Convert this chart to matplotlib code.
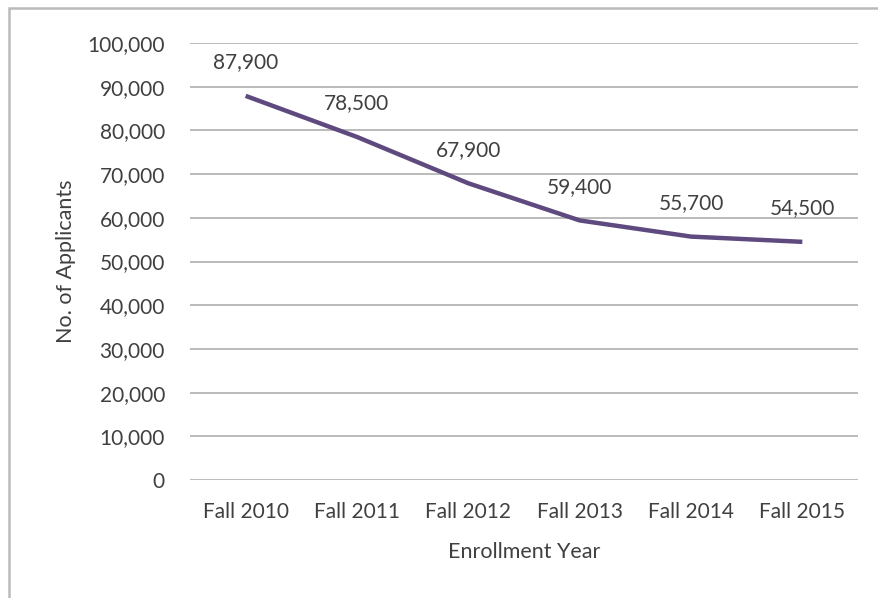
import matplotlib
matplotlib.use("Agg")
import matplotlib.pyplot as plt
from matplotlib.patches import Rectangle
from matplotlib.ticker import FuncFormatter, MultipleLocator

categories = ["Fall 2010", "Fall 2011", "Fall 2012", "Fall 2013", "Fall 2014", "Fall 2015"]
applicants = [87900, 78500, 67900, 59400, 55700, 54500]

plt.rcParams['font.family'] = ['Lato', 'DejaVu Sans']
text_color = '#404040'

fig = plt.figure(figsize=(8.79, 5.98), dpi=100)
ax = fig.add_axes([190/879, 1 - 480/598, 668/879, 437/598])

x = list(range(len(categories)))
ax.plot(x, applicants, color='#5E4A7F', linewidth=3.2, solid_capstyle='butt', zorder=3)
for xi, v in zip(x, applicants):
    ax.annotate(f"{v:,}", (xi, v), xytext=(0, 17), textcoords='offset points',
                ha='center', va='bottom', fontsize=15, color=text_color)

ax.set_xlim(-0.5, len(categories) - 0.5)
ax.set_ylim(0, 100000)
ax.yaxis.set_major_locator(MultipleLocator(10000))
ax.yaxis.set_major_formatter(FuncFormatter(lambda v, p: f"{int(v):,}"))
ax.set_xticks(x)
ax.set_xticklabels(categories)
ax.grid(axis='y', color='#BBBBBB', linewidth=1.4)
ax.set_axisbelow(True)
for s in ax.spines.values():
    s.set_visible(False)
ax.tick_params(axis='both', length=0, labelsize=15, labelcolor=text_color)
ax.tick_params(axis='y', pad=18)
ax.tick_params(axis='x', pad=16)
ax.set_xlabel("Enrollment Year", fontsize=15.5, color=text_color, labelpad=14)
ax.set_ylabel("No. of Applicants", fontsize=15.5, color=text_color, labelpad=8)

fig.patches.append(Rectangle((9/879, -0.1), 1.2, 1 - 8/598 + 0.1, transform=fig.transFigure,
                             fill=False, edgecolor='#BBBBBB', linewidth=1.8))

fig.savefig("out.png", dpi=100)
